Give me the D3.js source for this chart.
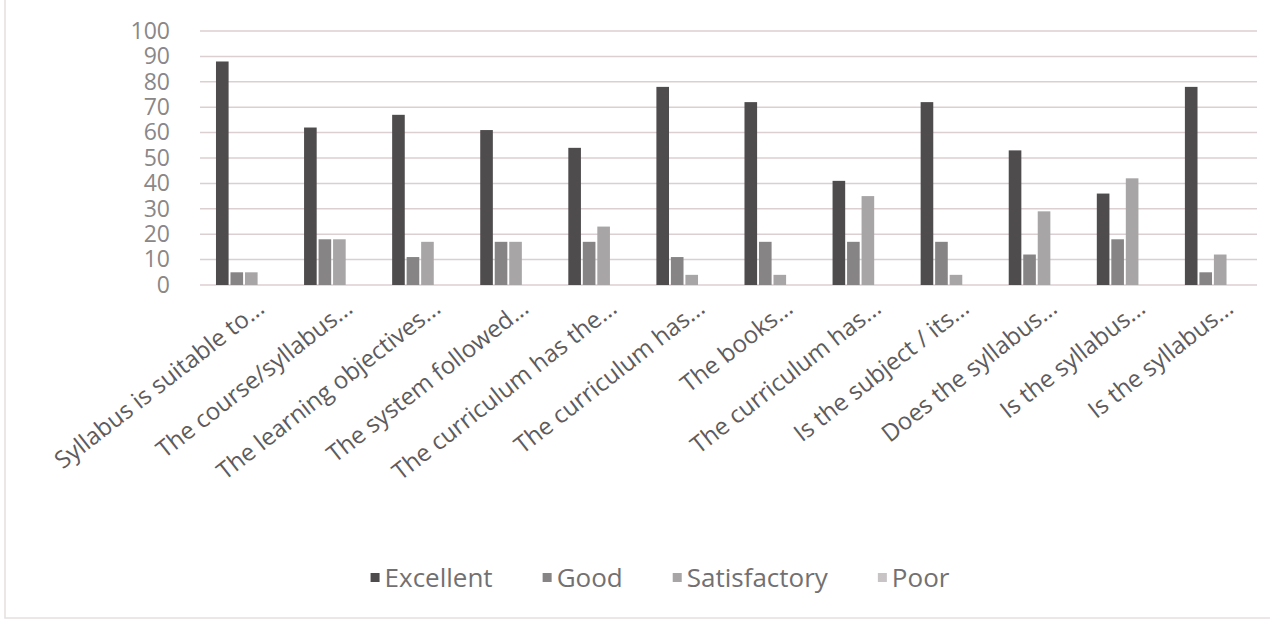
<!DOCTYPE html>
<html><head><meta charset="utf-8">
<script src="https://cdn.jsdelivr.net/npm/d3@7"></script>
<style>body{margin:0;background:#fff;} svg{display:block;}</style>
</head><body><svg width="1270" height="629"></svg>
<script>
const categories = ["Syllabus is suitable to...", "The course/syllabus...", "The learning objectives...", "The system followed...", "The curriculum has the...", "The curriculum has...", "The books...", "The curriculum has...", "Is the subject / its...", "Does the syllabus...", "Is the syllabus...", "Is the syllabus..."];
const seriesNames = ["Excellent", "Good", "Satisfactory", "Poor"];
const excellent =    [88, 62, 67, 61, 54, 78, 72, 41, 72, 53, 36, 78];
const good =         [5, 18, 11, 17, 17, 11, 17, 17, 17, 12, 18, 5];
const satisfactory = [5, 18, 17, 17, 23, 4, 4, 35, 4, 29, 42, 12];
const poor =         [0, 0, 0, 0, 0, 0, 0, 0, 0, 0, 0, 0];
const yTicks = [0, 10, 20, 30, 40, 50, 60, 70, 80, 90, 100];
const colors = ["#4f4c4d", "#878485", "#a8a5a6", "#c8c3c4"];

const seriesValues = [excellent, good, satisfactory, poor];
const svg = d3.select("svg");
const font = "'Open Sans', sans-serif";

// outer frame
svg.append("rect").attr("x", 5).attr("y", -5).attr("width", 1300).attr("height", 623)
  .attr("fill", "none").attr("stroke", "#e6dfe0").attr("stroke-width", 1.5);

const plotLeft = 200, plotRight = 1257, plotTop = 31, plotBottom = 285;
const idx = categories.map((d, i) => i);
const x0 = d3.scaleBand().domain(idx).range([plotLeft, plotRight]).paddingInner(0.32).paddingOuter(0.16);
const x1 = d3.scaleBand().domain(seriesNames).range([0, x0.bandwidth()]).padding(0.13);
const y = d3.scaleLinear().domain([0, 100]).range([plotBottom, plotTop]);

// gridlines
svg.append("g").selectAll("line").data(yTicks).join("line")
  .attr("x1", plotLeft).attr("x2", plotRight)
  .attr("y1", d => y(d)).attr("y2", d => y(d))
  .attr("stroke", "#dccfd1").attr("stroke-width", 1.5);

// y axis
const yAxis = svg.append("g").attr("transform", `translate(${plotLeft},0)`)
  .call(d3.axisLeft(y).tickValues(yTicks).tickSize(0).tickPadding(30));
yAxis.select(".domain").remove();
yAxis.selectAll("text").attr("font-family", font).attr("font-size", 23)
  .attr("fill", "#8a8788");

// bars
const groups = svg.append("g").selectAll("g").data(idx).join("g")
  .attr("transform", i => `translate(${x0(i)},0)`);
groups.selectAll("rect").data(i => seriesNames.map((s, k) => ({ s, k, v: seriesValues[k][i] })))
  .join("rect")
  .attr("x", d => x1(d.s)).attr("width", x1.bandwidth())
  .attr("y", d => y(d.v)).attr("height", d => y(0) - y(d.v))
  .attr("fill", d => colors[d.k]);

// x axis labels
const xAxis = svg.append("g").attr("transform", `translate(0,${plotBottom})`)
  .call(d3.axisBottom(x0).tickFormat(i => categories[i]).tickSize(0));
xAxis.select(".domain").remove();
xAxis.selectAll("text")
  .attr("x", 0).attr("y", 0).attr("dy", 0)
  .attr("text-anchor", "end")
  .attr("transform", "translate(22,26) rotate(-38)")
  .attr("font-family", font).attr("font-size", 24)
  .attr("fill", "#5e5b5c");

// legend
const legend = svg.append("g");
let cx = 0;
const gap = 50;
seriesNames.forEach((s, k) => {
  const g = legend.append("g");
  g.append("rect").attr("x", 0).attr("y", -5).attr("width", 9).attr("height", 9).attr("fill", colors[k]);
  const t = g.append("text").attr("x", 14).attr("y", 0).attr("dy", "0.35em")
    .attr("font-family", font).attr("font-size", 26).attr("fill", "#727071").text(s);
  const w = 14 + t.node().getComputedTextLength();
  g.attr("transform", `translate(${cx},0)`);
  cx += w + gap;
});
const total = cx - gap;
legend.attr("transform", `translate(${660 - total / 2},578)`);
</script></body></html>
